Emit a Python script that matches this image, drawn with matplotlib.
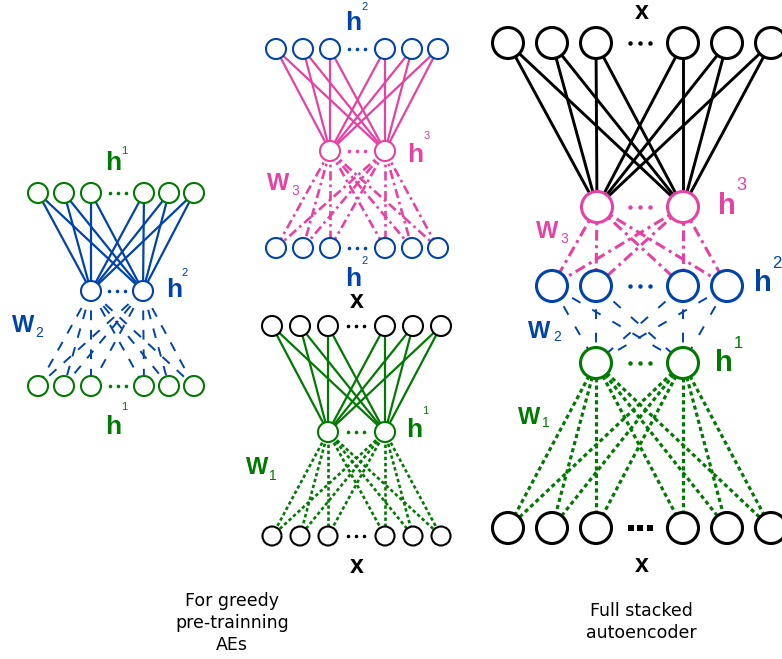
import matplotlib.pyplot as plt
from matplotlib.patches import Circle

GREEN = '#007a00'
BLUE = '#0044aa'
PINK = '#e542a4'
BLACK = '#000000'

# node rows: (x positions, y, radius, colour)
left_top = ([38, 64, 91, 144, 169, 194], 193, 10, GREEN)
left_mid = ([91, 143], 291, 10, BLUE)
left_bot = ([38, 64, 91, 144, 169, 194], 386, 10, GREEN)

mid_top = ([276, 303, 330, 385, 412, 438], 49, 10, BLUE)
mid_mid = ([330, 385], 151, 10, PINK)
mid_bot = ([276, 303, 330, 385, 412, 438], 248, 10, BLUE)

low_top = ([272, 300, 328, 385, 413, 441], 326, 10, BLACK)
low_mid = ([328, 385], 432, 10, GREEN)
low_bot = ([272, 300, 328, 385, 413, 441], 536, 9.5, BLACK)

r_x = ([508, 552, 596, 683, 727, 771], 43, 15.5, BLACK)
r_h3 = ([597, 683], 207, 15.5, PINK)
r_h2 = ([552, 596, 683, 727], 286, 15.5, BLUE)
r_h1 = ([596, 683], 363, 15.5, GREEN)
r_xb = ([508, 552, 596, 683, 727, 771], 528, 15.5, BLACK)

# line styles
solid = (0, ())
dashed = (0, (5, 5))
dashdot = (0, (3.5, 1.5, 1, 1.5))
dotted = (0, (1.3, 1))

# (upper row, lower row, colour, linestyle, linewidth)
links = [
    (left_top, left_mid, BLUE, solid, 1.6),
    (left_mid, left_bot, BLUE, dashed, 1.4),
    (mid_top, mid_mid, PINK, solid, 1.6),
    (mid_mid, mid_bot, PINK, dashdot, 1.9),
    (low_top, low_mid, GREEN, solid, 1.6),
    (low_mid, low_bot, GREEN, dotted, 1.9),
    (r_x, r_h3, BLACK, solid, 2.1),
    (r_h3, r_h2, PINK, dashdot, 2.2),
    (r_h2, r_h1, BLUE, (0, (5, 7)), 1.4),
    (r_h1, r_xb, GREEN, dotted, 2.3),
]

rows = [left_top, left_mid, left_bot, mid_top, mid_mid, mid_bot,
        low_top, low_mid, low_bot, r_x, r_h3, r_h2, r_h1, r_xb]
row_lw = [1.5] * 9 + [2.2] * 5

# "..." between nodes: (x centre, y, spacing, size, marker, colour)
gaps = [
    (117.5, 193, 8, 2.6, 'o', GREEN), (117, 291, 8, 2.6, 'o', BLUE),
    (117.5, 386, 8, 2.6, 'o', GREEN),
    (357, 49, 8, 2.6, 'o', BLUE), (357, 151, 8, 2.6, 'o', PINK),
    (357, 248, 8, 2.6, 'o', BLUE),
    (356, 326, 8, 2.6, 'o', BLACK), (356, 432, 8, 2.6, 'o', GREEN),
    (356, 536, 8, 2.6, 'o', BLACK),
    (640, 43, 10, 3.2, 'o', BLACK), (640, 207, 10, 3.2, 'o', PINK),
    (640, 286, 10, 3.2, 'o', BLUE), (640, 363, 10, 3.2, 'o', GREEN),
    (640, 528, 9.5, 5, 's', BLACK),
]

# labels: (text, x, y, size, colour, bold)
labels = [
    ('h', 113, 163, 19, GREEN, True), ('1', 124, 151, 8, GREEN, False),
    ('h', 174, 290, 19, BLUE, True), ('2', 185, 273, 8, BLUE, False),
    ('W', 23, 325, 17, BLUE, True), ('2', 39, 333, 10, BLUE, False),
    ('h', 113, 427, 19, GREEN, True), ('1', 124, 407, 8, GREEN, False),
    ('h', 353, 23, 19, BLUE, True), ('2', 365, 7, 8, BLUE, False),
    ('h', 415, 155, 19, PINK, True), ('3', 427, 136, 8, PINK, False),
    ('W', 278, 183, 17, PINK, True), ('3', 295, 191, 10, PINK, False),
    ('h', 353, 279, 19, BLUE, True), ('2', 365, 261, 8, BLUE, False),
    ('x', 357, 301, 18, BLACK, True),
    ('h', 414, 430, 19, GREEN, True), ('1', 425, 411, 8, GREEN, False),
    ('W', 257, 468, 17, GREEN, True), ('1', 273, 476, 10, GREEN, False),
    ('x', 357, 566, 18, BLACK, True),
    ('x', 642, 12, 18, BLACK, True),
    ('h', 727, 206, 21, PINK, True), ('3', 741, 186, 13, PINK, False),
    ('h', 763, 283, 21, BLUE, True), ('2', 777, 264, 12, BLUE, False),
    ('h', 724, 363, 21, GREEN, True), ('1', 738, 344, 12, GREEN, False),
    ('W', 547, 232, 17, PINK, True), ('3', 564, 239, 10, PINK, False),
    ('W', 539, 331, 17, BLUE, True), ('2', 557, 337, 10, BLUE, False),
    ('W', 529, 417, 17, GREEN, True), ('1', 546, 423, 10, GREEN, False),
    ('x', 642, 565, 18, BLACK, True),
]

captions = [
    ('For greedy\npre-trainning\nAEs', 232, 623),
    ('Full stacked\nautoencoder', 641, 622),
]

fig = plt.figure(figsize=(7.82, 6.59), dpi=100)
ax = fig.add_axes([0, 0, 1, 1])
ax.set_xlim(0, 782)
ax.set_ylim(659, 0)
ax.axis('off')

for upper, lower, col, ls, lw in links:
    for xu in upper[0]:
        for xl in lower[0]:
            ax.plot([xu, xl], [upper[1], lower[1]], color=col, linestyle=ls,
                    linewidth=lw, zorder=1, solid_capstyle='butt',
                    dash_capstyle='butt')

for (xs, y, r, col), lw in zip(rows, row_lw):
    for x in xs:
        ax.add_patch(Circle((x, y), r, facecolor='white', edgecolor=col,
                            linewidth=lw, zorder=3))

for xc, y, sp, ms, mk, col in gaps:
    ax.plot([xc - sp, xc, xc + sp], [y, y, y], linestyle='none', marker=mk,
            markersize=ms, color=col, markeredgewidth=0, zorder=4)

for txt, x, y, size, col, bold in labels:
    ax.text(x, y, txt, fontsize=size, color=col, ha='center', va='center',
            fontweight='bold' if bold else 'normal', family='Liberation Sans')

for txt, x, y in captions:
    ax.text(x, y, txt, fontsize=12.5, ha='center', va='center',
            linespacing=1.25, family='DejaVu Sans')

fig.savefig('out.png', dpi=100)
